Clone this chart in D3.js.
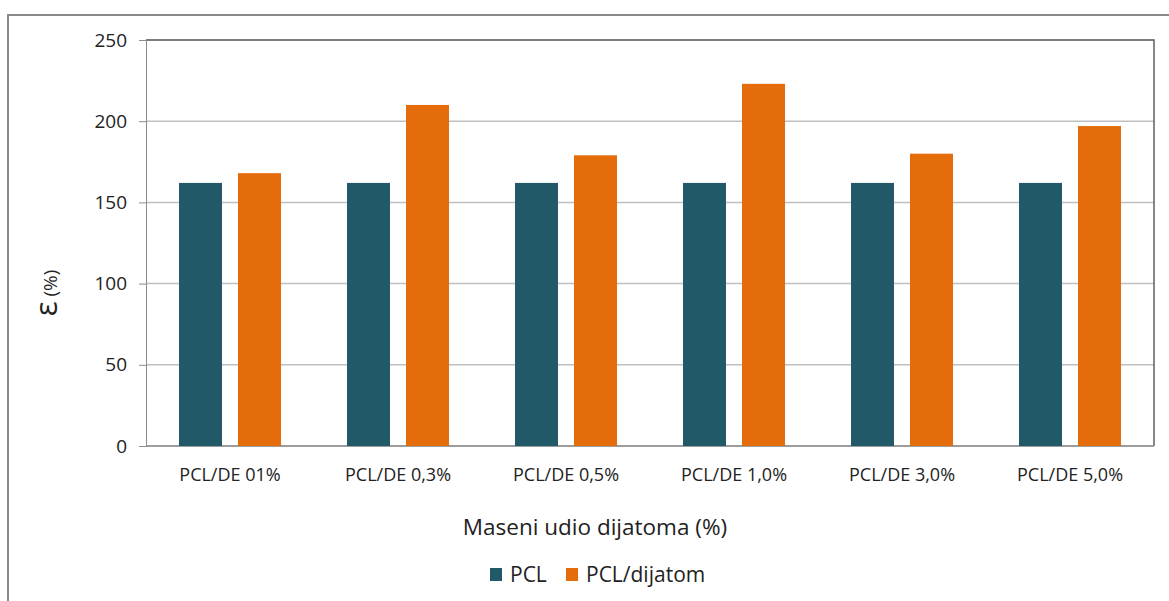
<!DOCTYPE html>
<html>
<head>
<meta charset="UTF-8">
<script src="https://cdn.jsdelivr.net/npm/d3@7/dist/d3.min.js"></script>
<style>
body{ margin:0; background:#fff; }
text{ font-family:"Open Sans", sans-serif; fill:#222; }
</style>
</head>
<body>
<script>
// values
var categories = ["PCL/DE 01%","PCL/DE 0,3%","PCL/DE 0,5%","PCL/DE 1,0%","PCL/DE 3,0%","PCL/DE 5,0%"]
var pcl = [162, 162, 162, 162, 162, 162]
var pclDijatom = [168, 210, 179, 223, 180, 197]
var yTicks = [0, 50, 100, 150, 200, 250]
var seriesNames = ["PCL", "PCL/dijatom"]
var colors = ["#215968", "#e46c0a"]

var width = 1169, height = 601
var pLeft = 146, pRight = 1154, pTop = 40, pBottom = 446

var svg = d3.select("body").append("svg")
  .attr("width", width)
  .attr("height", height)

// outer frame
svg.append("rect")
  .attr("x", 8).attr("y", 15)
  .attr("width", 1180).attr("height", 620)
  .attr("fill", "none")
  .attr("stroke", "#8a8a8a")
  .attr("stroke-width", 2)

var y = d3.scaleLinear().domain([0, 250]).range([pBottom, pTop])
var x0 = d3.scaleBand().domain(categories).range([pLeft, pRight])

// grid
svg.append("g").selectAll("line")
  .data(yTicks)
  .enter().append("line")
  .attr("x1", pLeft).attr("x2", pRight)
  .attr("y1", d => y(d)).attr("y2", d => y(d))
  .attr("stroke", "#c0c0c0")
  .attr("stroke-width", 1.5)

// plot border top/right
svg.append("path")
  .attr("d", "M" + pLeft + "," + pTop + "H" + pRight + "V" + pBottom)
  .attr("fill", "none")
  .attr("stroke", "#606060")
  .attr("stroke-width", 1.5)

// y axis
var yAxis = svg.append("g")
  .attr("transform", "translate(" + pLeft + ",0)")
  .call(d3.axisLeft(y).tickValues(yTicks).tickSize(7).tickPadding(12))
yAxis.select(".domain").attr("stroke", "#8c8c8c")
yAxis.selectAll(".tick line").attr("stroke", "#8c8c8c")
yAxis.selectAll("text")
  .attr("font-size", 19)
  .attr("font-family", "Open Sans, sans-serif")
  .attr("fill", "#222")

// x axis line
svg.append("line")
  .attr("x1", pLeft).attr("x2", pRight)
  .attr("y1", pBottom).attr("y2", pBottom)
  .attr("stroke", "#8c8c8c")
  .attr("stroke-width", 1.5)

// bars
var barW = 43, gap = 16
var groups = svg.append("g").selectAll("g")
  .data(categories)
  .enter().append("g")
  .attr("transform", d => "translate(" + (x0(d) + x0.bandwidth() / 2) + ",0)")

groups.append("rect")
  .attr("x", -barW - gap / 2)
  .attr("y", (d, i) => y(pcl[i]))
  .attr("width", barW)
  .attr("height", (d, i) => pBottom - y(pcl[i]))
  .attr("fill", colors[0])

groups.append("rect")
  .attr("x", gap / 2)
  .attr("y", (d, i) => y(pclDijatom[i]))
  .attr("width", barW)
  .attr("height", (d, i) => pBottom - y(pclDijatom[i]))
  .attr("fill", colors[1])

groups.append("text")
  .attr("y", 481)
  .attr("text-anchor", "middle")
  .attr("font-size", 18)
  .text(d => d)

// axis titles
svg.append("text")
  .attr("x", 595).attr("y", 535)
  .attr("text-anchor", "middle")
  .attr("font-size", 22.5)
  .text("Maseni udio dijatoma (%)")

var yt = svg.append("text")
  .attr("transform", "translate(57,293) rotate(-90)")
  .attr("text-anchor", "middle")
yt.append("tspan").attr("font-size", 31).text("ε")
yt.append("tspan").attr("font-size", 19).text(" (%)")

// legend
var legX = [490, 566]
var leg = svg.append("g").selectAll("g")
  .data(seriesNames)
  .enter().append("g")
  .attr("transform", (d, i) => "translate(" + legX[i] + ",568)")
leg.append("rect")
  .attr("width", 12).attr("height", 13)
  .attr("fill", (d, i) => colors[i])
leg.append("text")
  .attr("x", 20).attr("y", 14)
  .attr("font-size", 21)
  .text(d => d)
</script>
</body>
</html>
